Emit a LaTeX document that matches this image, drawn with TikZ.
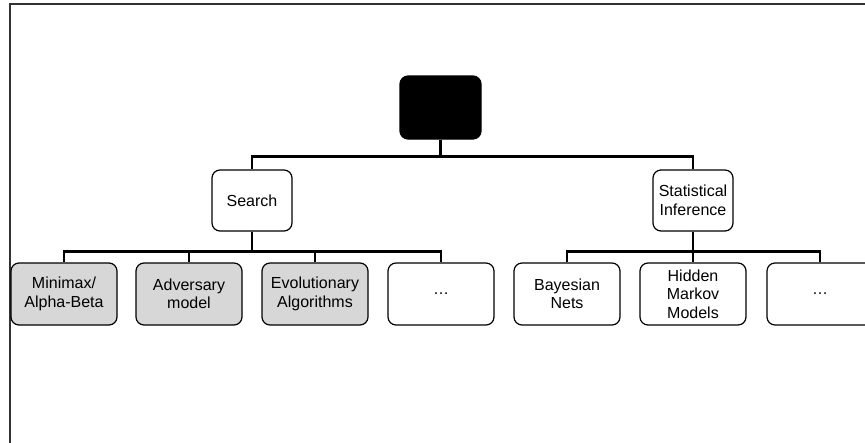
\documentclass[tikz,border=0pt]{standalone}
\usepackage{fontspec}
\setmainfont{Liberation Sans}
\begin{document}
\begin{tikzpicture}[x=1pt,y=-1pt,
  box/.style={draw=black, line width=1.2pt, rounded corners=8pt, rectangle,
    inner sep=0pt, align=center, minimum width=106pt, minimum height=62pt,
    font=\fontsize{16}{18.5}\selectfont},
  graybox/.style={box, fill=boxgray},
  midbox/.style={box, minimum width=80pt, minimum height=61pt},
  conn/.style={draw=black, line width=2.6pt},
  frameline/.style={draw=framegray, line width=2pt}]
\definecolor{boxgray}{RGB}{215,215,215}
\definecolor{framegray}{RGB}{50,50,50}
\useasboundingbox (0,0) rectangle (865,442);
\clip (0,0) rectangle (865,442);
\fill[white] (0,0) rectangle (865,442);
\draw[frameline] (10,445) -- (10,4) -- (870,4);

\node[box, fill=black, minimum width=81pt, minimum height=63pt] (root) at (440.5,107.5) {};
\node[midbox] (search) at (252,200.5) {Search};
\node[midbox] (stat) at (693,200.5) {Statistical\\Inference};

\node[graybox] (mm) at (64,294) {Minimax/\\Alpha-Beta};
\node[graybox] (adv) at (189,294) {Adversary\\model};
\node[graybox] (evo) at (315,294) {Evolutionary\\Algorithms};
\node[box] (dots1) at (441,294) {…};
\node[box] (bn) at (567,294) {Bayesian\\Nets};
\node[box] (hmm) at (693,294) {Hidden\\Markov\\Models};
\node[box] (dots2) at (820,294) {…};

\draw[conn] (root.south) -- ++(0,17) -| (search.north);
\draw[conn] (root.south) -- ++(0,17) -| (stat.north);

\foreach \n in {mm,adv,evo,dots1}
  \draw[conn] (search.south) -- ++(0,20) -| (\n.north);
\foreach \n in {bn,hmm,dots2}
  \draw[conn] (stat.south) -- ++(0,20) -| (\n.north);
\end{tikzpicture}
\end{document}
